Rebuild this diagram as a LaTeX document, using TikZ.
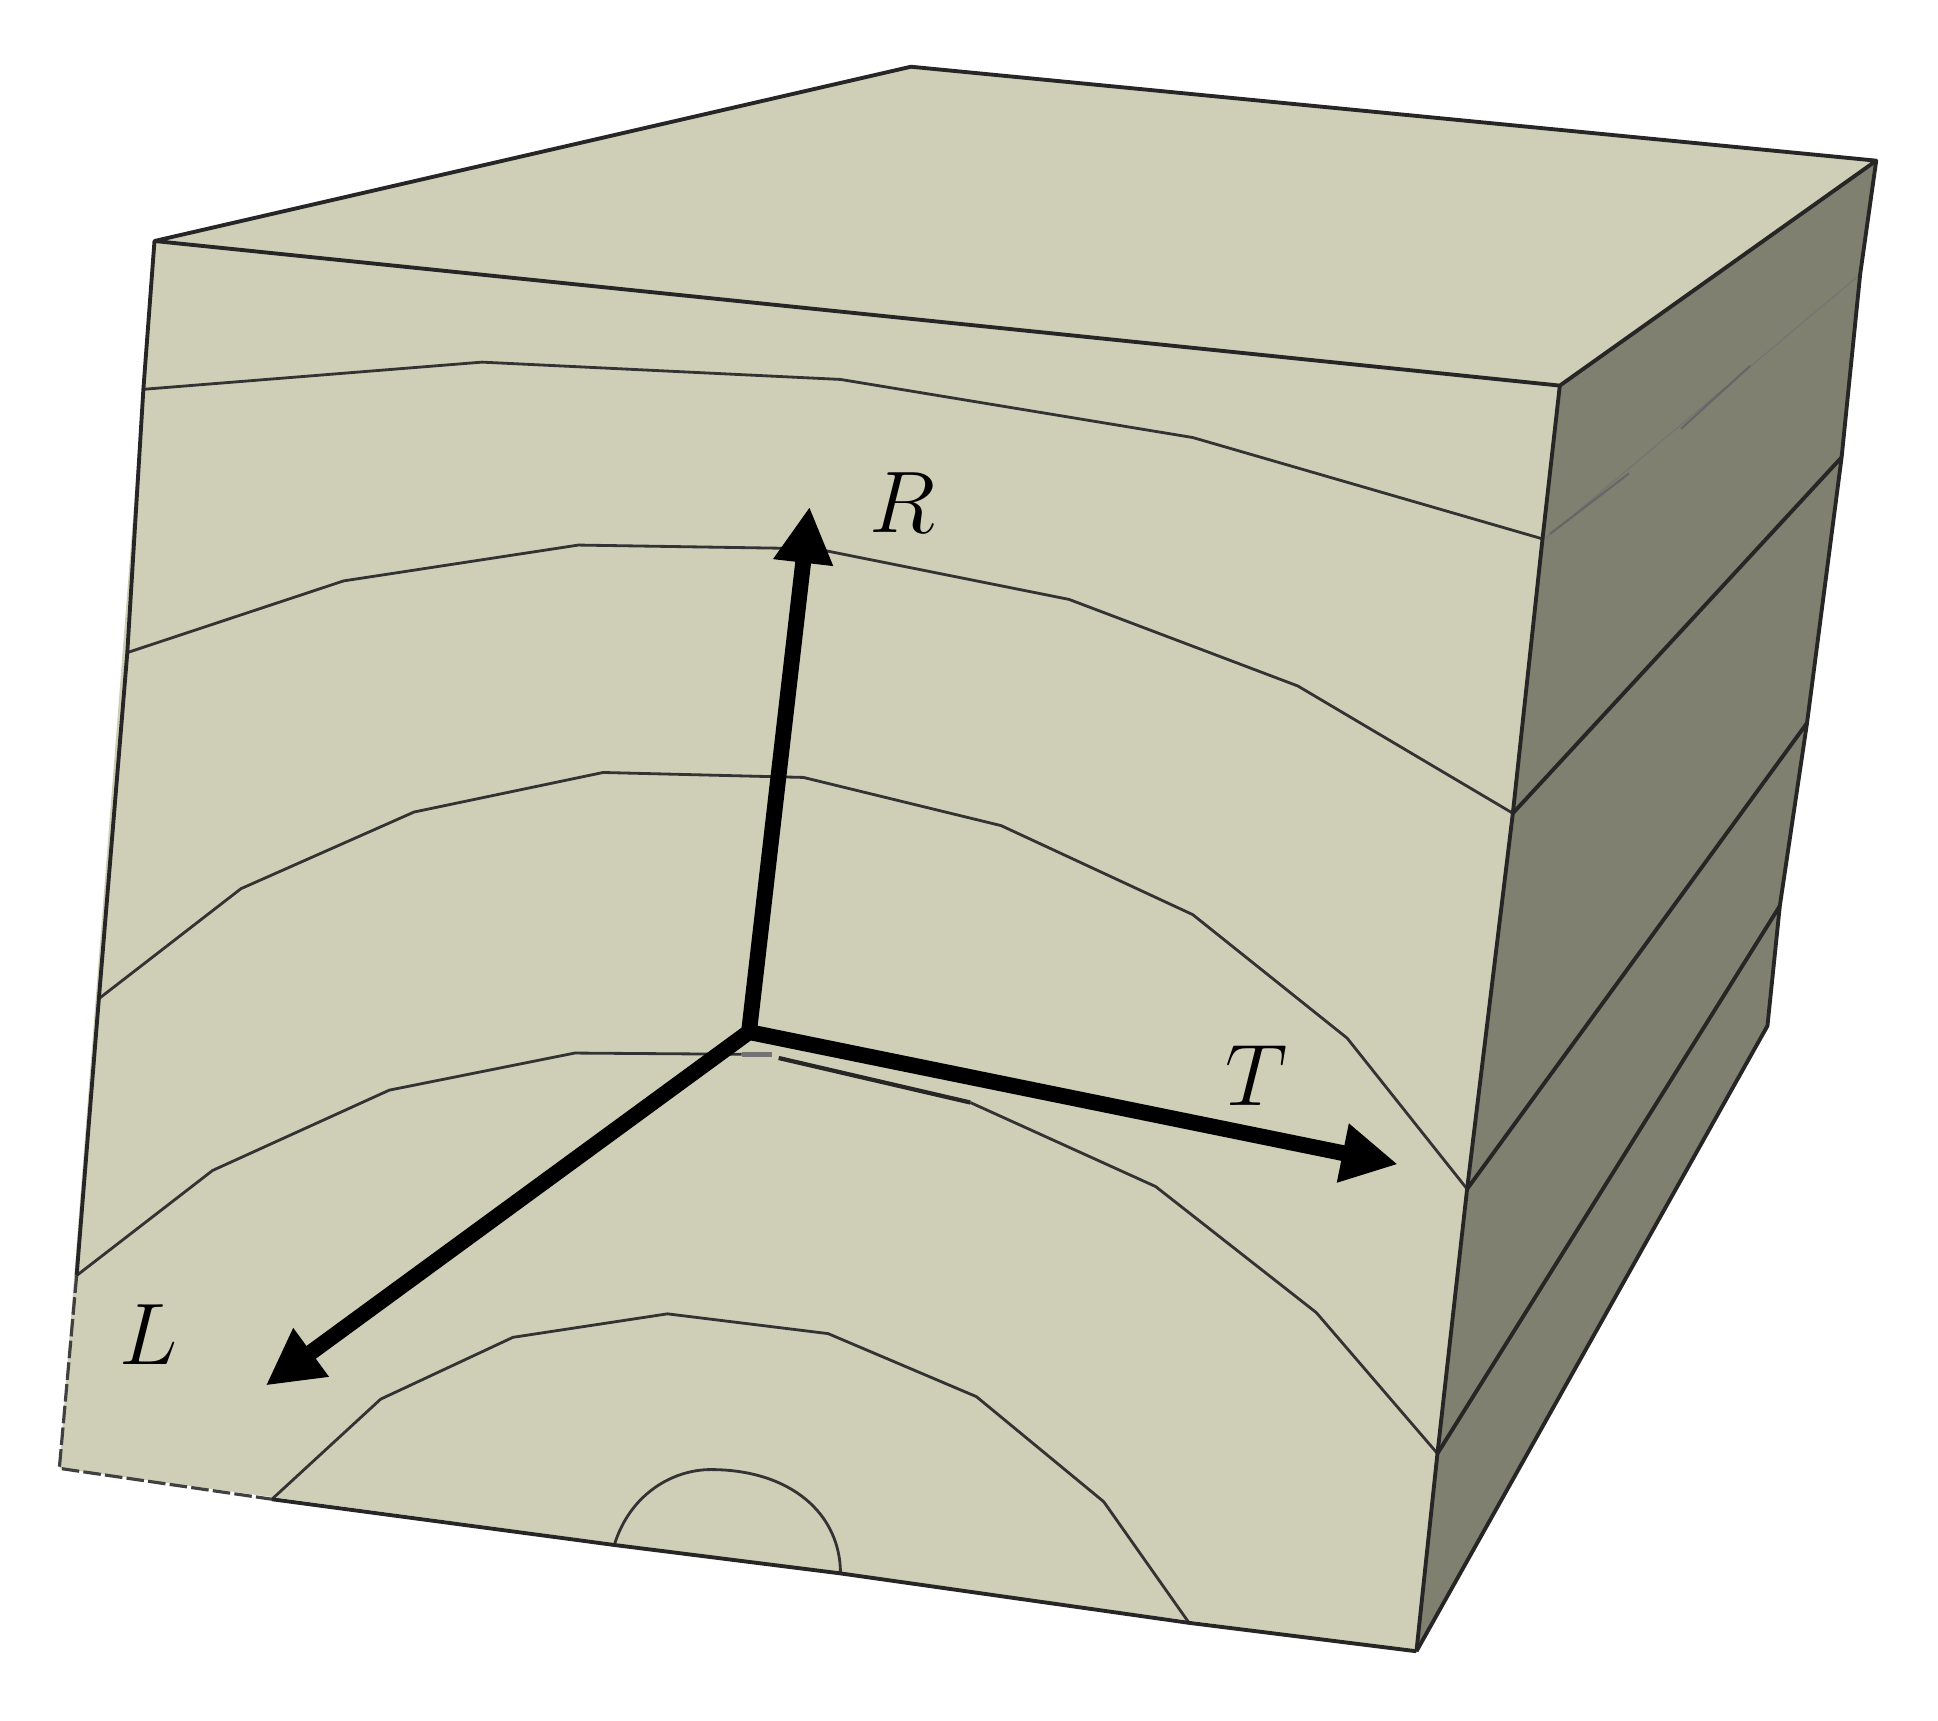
\documentclass[tikz,border=0pt]{standalone}
\usetikzlibrary{arrows.meta}
\definecolor{woodface}{RGB}{207,207,184}
\definecolor{woodside}{RGB}{128,128,112}
\tikzset{
  edgeline/.style={line width=1.1pt,black!85,line join=round},
  ringline/.style={line width=0.8pt,black!80,line join=round},
  brokenline/.style={line width=0.9pt,black!75,dash pattern=on 5pt off 1.2pt},
  faintline/.style={line width=0.3pt,black!55},
  axisarrow/.style={line width=4.5pt,black,-{Triangle[length=16pt,width=16pt]}},
  axislabel/.style={font=\fontsize{23}{27}\selectfont}
}
\begin{document}
\begin{tikzpicture}[x=0.01236cm,y=-0.01236cm]
\useasboundingbox (0,0) rectangle (1568,1392);

% corners of the block
\coordinate (fronttl) at (125,195);
\coordinate (frontc) at (1262,312);
\coordinate (frontb) at (1146,1336);
\coordinate (frontbl) at (48,1188);
\coordinate (topback) at (737,54);
\coordinate (topright) at (1518,130);
\coordinate (sideb) at (1430,830);

% faces
\fill[woodface] (fronttl) -- (topback) -- (topright) -- (frontc) -- cycle;
\fill[woodface] (fronttl) -- (frontc) -- (frontb) -- (frontbl) -- cycle;
\fill[woodside] (frontc) -- (topright) -- (1505,222) -- (1490,370) -- (1462,585) -- (1440,733) -- (sideb) -- (frontb) -- cycle;

% growth rings, front face
\draw[ringline] (116,315) -- (390,293) -- (680,307) -- (965,354) -- (1248,436);
\draw[ringline] (103,528) -- (278,470) -- (468,441) -- (660,444) -- (865,485) -- (1050,555) -- (1224,658);
\draw[ringline] (80,808) -- (195,719) -- (335,657) -- (488,625) -- (650,629) -- (810,668) -- (965,740) -- (1090,840) -- (1187,962);
\draw[ringline] (62,1032) -- (172,947) -- (315,882) -- (465,852) -- (600,853);
\draw[line width=1.4pt,black!55] (600,853) -- (625,853);
\draw[line width=1.2pt,black!85] (630,856) -- (785,892);
\draw[ringline] (785,892) -- (935,960) -- (1065,1062) -- (1163,1176);
\draw[ringline] (220,1213) -- (308,1132) -- (415,1082) -- (540,1063) -- (670,1079) -- (790,1130) -- (893,1215) -- (962,1313);
\draw[ringline] (497,1250) .. controls (510,1208) and (545,1189) .. (575,1189) .. controls (640,1189) and (680,1225) .. (680,1273);

% rings on the side
\draw[faintline] (1250,436) -- (1505,222);
\draw[line width=0.6pt,black!60] (1254,432) -- (1318,383);
\draw[line width=0.6pt,black!60] (1360,347) -- (1416,296);
\draw[edgeline] (1224,658) -- (1490,370);
\draw[edgeline] (1187,962) -- (1462,585);
\draw[edgeline] (1163,1176) -- (1440,733);

% outline
\draw[edgeline] (fronttl) -- (topback) -- (topright) -- (frontc) -- cycle;
\draw[edgeline] (frontc) -- (1248,436) -- (1224,658) -- (1187,962) -- (1163,1176) -- (frontb);
\draw[edgeline] (topright) -- (1505,222) -- (1490,370) -- (1462,585) -- (1440,733) -- (sideb) -- (frontb);
\draw[edgeline] (fronttl) -- (116,315) -- (103,528) -- (80,808) -- (62,1032);
\draw[brokenline] (62,1032) -- (frontbl) -- (220,1213);
\draw[edgeline] (220,1213) -- (497,1250) -- (680,1273) -- (962,1313) -- (frontb);

% axes
\coordinate (origin) at (606,835);
\coordinate (rtip) at (655,410);
\coordinate (ttip) at (1131,942);
\coordinate (ltip) at (215,1121);
\draw[axisarrow] (origin) -- (rtip);
\draw[axisarrow] (origin) -- (ttip);
\draw[axisarrow] (origin) -- (ltip);

\node[axislabel] (rlabel) at (730,407) {$R$};
\node[axislabel] (tlabel) at (1017,870) {$T$};
\node[axislabel] (llabel) at (120,1080) {$L$};
\end{tikzpicture}
\end{document}
